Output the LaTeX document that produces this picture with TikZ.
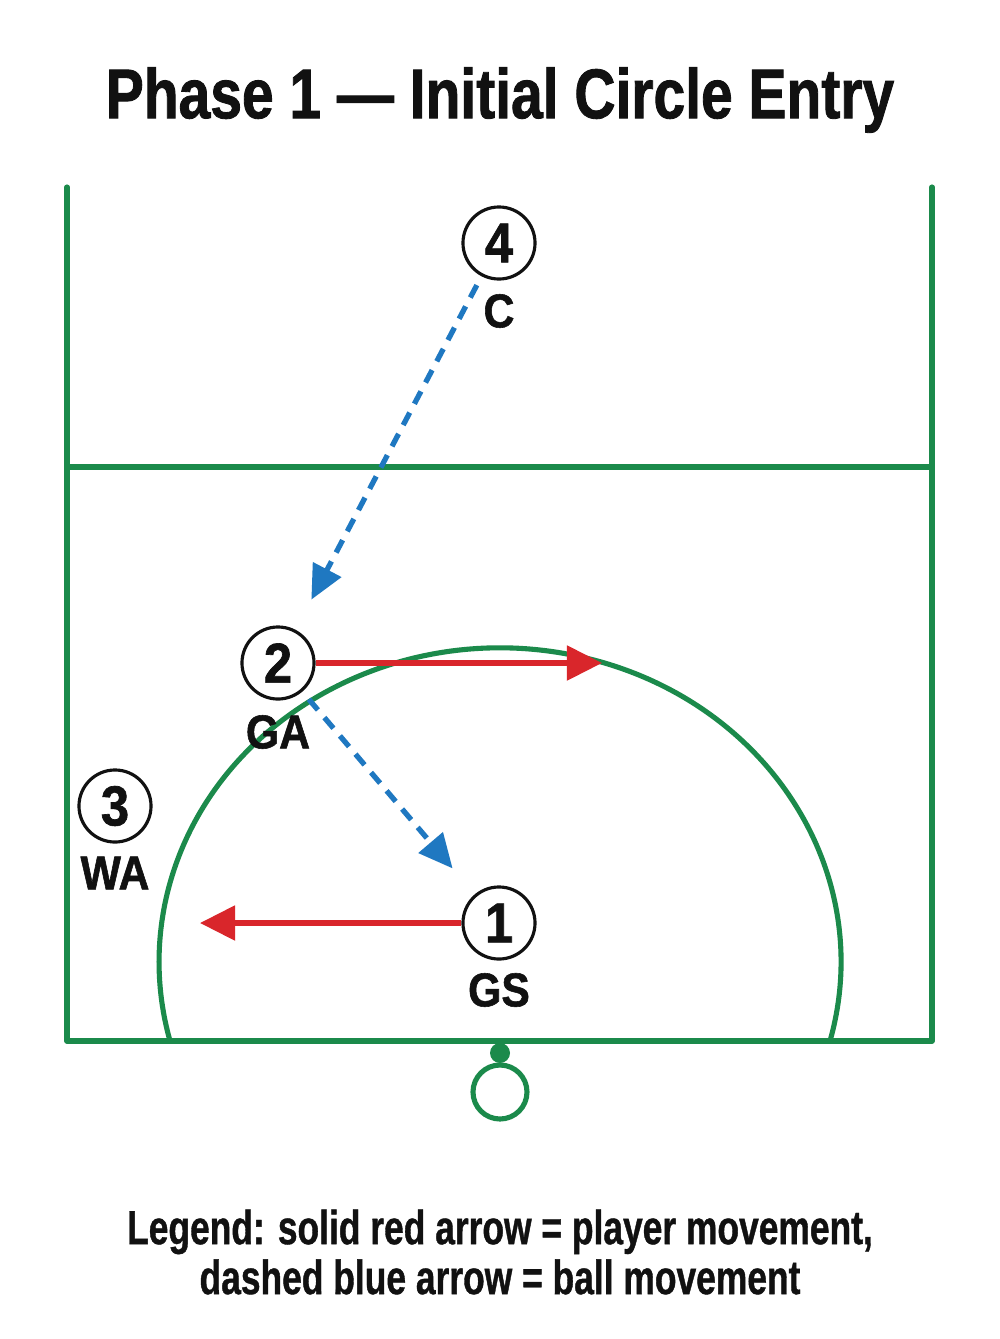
\documentclass[tikz,border=0pt]{standalone}
\usepackage{fontspec}
\setmainfont{Liberation Sans}[FakeStretch=0.74, BoldFeatures={FakeBold=0.8}]
\newfontfamily\ttlfont{Liberation Sans}[FakeStretch=0.81, BoldFeatures={FakeBold=1.2}]
\newfontfamily\labfont{Liberation Sans}[FakeStretch=0.9, BoldFeatures={FakeBold=1.2}]
\usepackage{xcolor}
\usetikzlibrary{calc,arrows.meta}
\definecolor{court}{HTML}{1B8A4B}
\definecolor{run}{HTML}{D9262B}
\definecolor{pass}{HTML}{1F78C1}
\definecolor{ink}{HTML}{111111}
\tikzset{
  line/.style={draw=court, line width=1.45pt, line cap=round, line join=round},
  move/.style={draw=run, line width=1.5pt, -{Triangle[length=3.5mm, width=3.4mm]}},
  ball/.style={draw=pass, line width=1.5pt, dash pattern=on 1.4mm off 1mm,
    -{Triangle[length=3.4mm, width=3.1mm]}, shorten >=3.4mm, shorten <=1mm},
  plyr/.style={circle, draw=ink, line width=0.9pt, fill=white, minimum size=7.2mm,
    inner sep=0pt, text=ink, font=\labfont\fontsize{16}{16}\selectfont\bfseries},
  lab/.style={text=ink, font=\labfont\fontsize{13.5}{13.5}\selectfont\bfseries},
  ttl/.style={text=ink, font=\ttlfont\fontsize{20}{20}\selectfont\bfseries},
  leg/.style={text=ink, align=center, font=\fontsize{13.6}{14.2}\selectfont\bfseries}
}
\begin{document}
\begin{tikzpicture}[x=0.01cm, y=-0.01cm]
  \useasboundingbox (0,0) rectangle (1000,1339);
  \fill[white] (0,0) rectangle (1000,1339);

  % title
  \node[ttl] (title) at (500,100) {Phase 1 — Initial Circle Entry};

  % court
  \draw[line] (67,187) -- (67,1041) -- (932,1041) -- (932,187);
  \draw[line] (67,467) -- (932,467);
  \draw[line] (830,1041) arc[start angle=14.6, end angle=-194.6, x radius=341, y radius=314];

  % goal post
  \fill[court] (500,1053) circle (10);
  \draw[line] (500,1092) circle (27);

  % players
  \node[plyr] (p4) at (499,243) {4};
  \node[plyr] (p2) at (278,663) {2};
  \node[plyr] (p3) at (115,806) {3};
  \node[plyr] (p1) at (499,923) {1};
  \node[lab] (c)  at (499,311) {C};
  \node[lab] (ga) at (278,732) {GA};
  \node[lab] (wa) at (115,873) {WA};
  \node[lab] (gs) at (499,990) {GS};

  % movement
  \coordinate (p2end) at (602,663);
  \coordinate (p1end) at (200,923);
  \draw[move] (p2) -- (p2end);
  \draw[move] (p1) -- (p1end);
  \draw[ball] (p4) -- (p2);
  \draw[ball] (p2) -- (p1);

  % legend
  \node[leg] (legend) at (500,1252) {Legend: solid red arrow = player movement,\\dashed blue arrow = ball movement};
\end{tikzpicture}
\end{document}
